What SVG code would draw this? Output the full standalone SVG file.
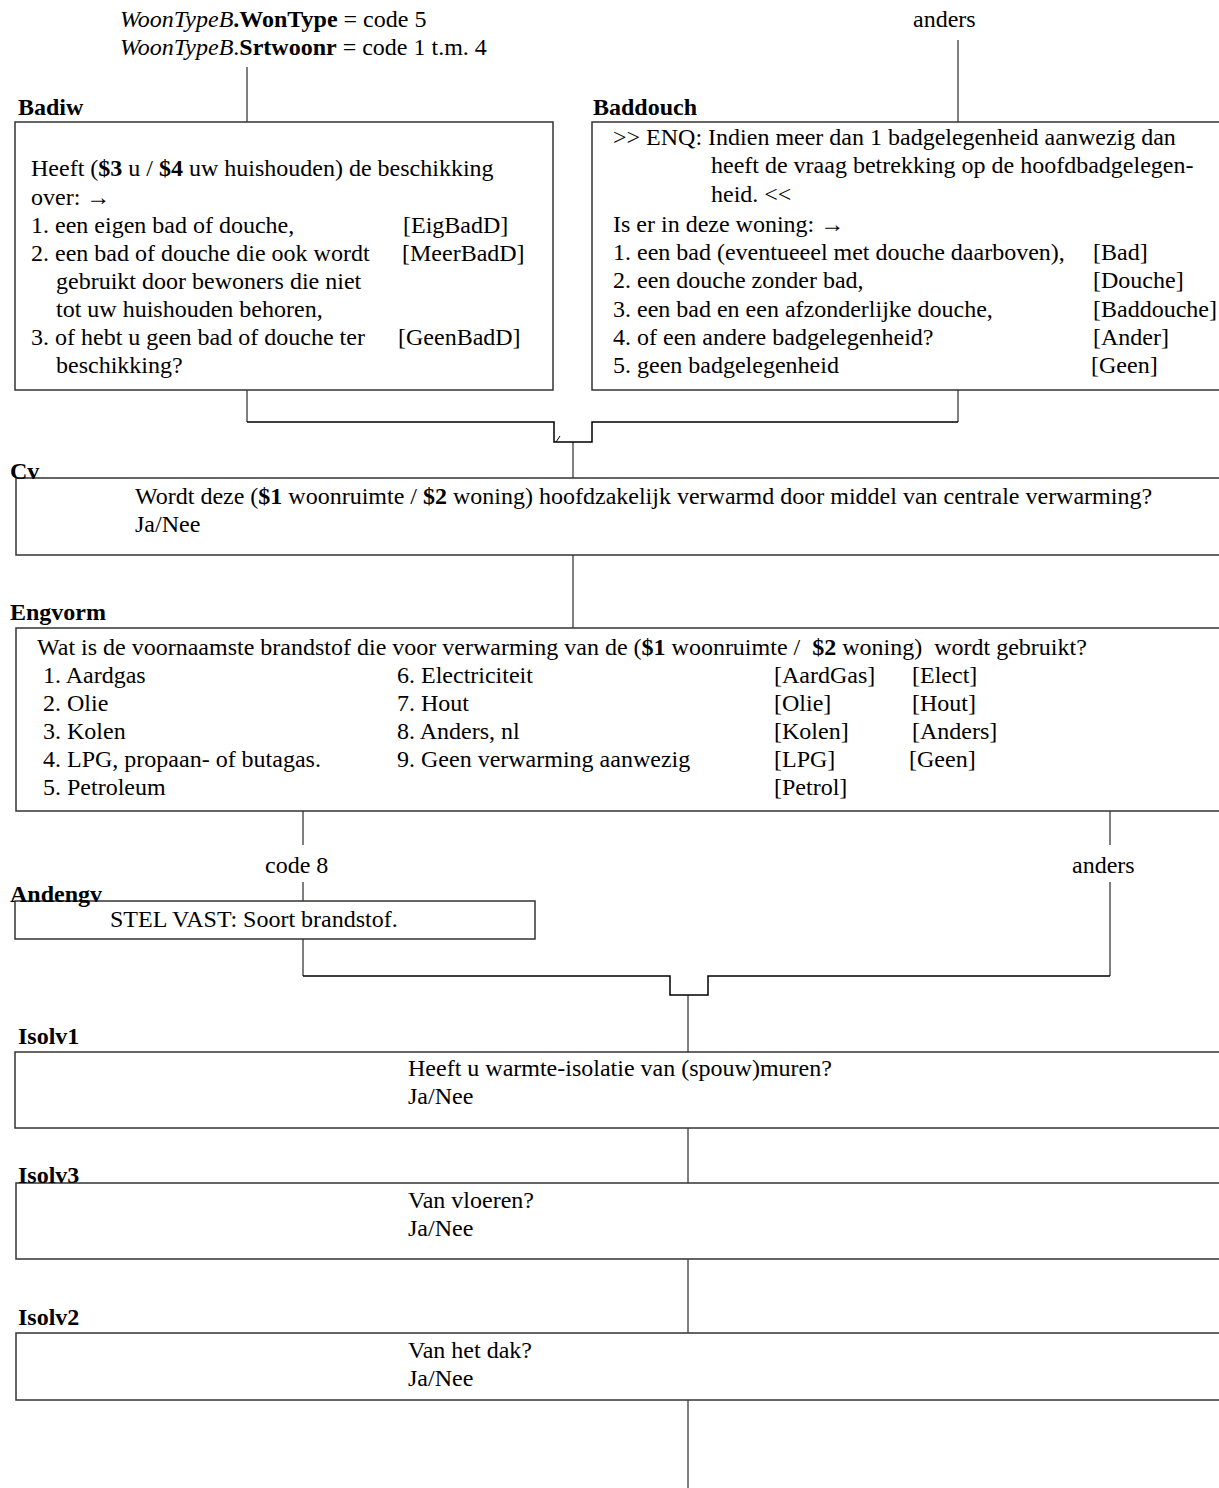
<svg xmlns="http://www.w3.org/2000/svg" width="1219" height="1488" viewBox="0 0 1219 1488">
<style>
text{font-family:"Liberation Serif","Times New Roman",serif;font-size:24px;fill:#000;white-space:pre}
.lbl{font-weight:bold}
.b{font-weight:bold}
.i{font-style:italic}
.box{fill:none;stroke:#333;stroke-width:1.5}
.con{fill:none;stroke:#000;stroke-width:1}
.br{fill:none;stroke:#000;stroke-width:1.5}
</style>
<rect width="1219" height="1488" fill="#fff"/>
<g id="connectors">
<line class="con" x1="247" y1="67" x2="247" y2="122"/>
<line class="con" x1="958" y1="40" x2="958" y2="122"/>
<line class="con" x1="247" y1="390" x2="247" y2="422"/>
<line class="con" x1="958" y1="390" x2="958" y2="422"/>
<polyline class="br" points="247,422 554,422 554,442 592,442 592,422 958,422"/>
<line class="con" x1="556" y1="442" x2="560" y2="436"/>
<line class="con" x1="573" y1="442" x2="573" y2="478"/>
<line class="con" x1="573" y1="555" x2="573" y2="628"/>
<line class="con" x1="303" y1="811" x2="303" y2="845"/>
<line class="con" x1="1110" y1="811" x2="1110" y2="845"/>
<line class="con" x1="303" y1="882" x2="303" y2="901"/>
<line class="con" x1="303" y1="939" x2="303" y2="976"/>
<line class="con" x1="1110" y1="882" x2="1110" y2="976"/>
<polyline class="br" points="303,976 670,976 670,995 708,995 708,976 1110,976"/>
<line class="con" x1="688" y1="995" x2="688" y2="1052"/>
<line class="con" x1="688" y1="1128" x2="688" y2="1183"/>
<line class="con" x1="688" y1="1259" x2="688" y2="1333"/>
<line class="con" x1="688" y1="1400" x2="688" y2="1488"/>
<text x="120" y="27"><tspan class="i">WoonTypeB</tspan><tspan class="b">.WonType</tspan> = code 5</text>
<text x="120" y="55"><tspan class="i">WoonTypeB</tspan>.<tspan class="b">Srtwoonr</tspan> = code 1 t.m. 4</text>
<text x="913" y="27">anders</text>
<text x="265" y="873">code 8</text>
<text x="1072" y="873">anders</text>
</g>
<g id="Badiw">
<text class="lbl" x="18" y="115">Badiw</text>
<rect class="box" x="15" y="122" width="538" height="268"/>
<text x="31" y="176">Heeft (<tspan class="b">$3</tspan> u / <tspan class="b">$4</tspan> uw huishouden) de beschikking</text>
<text x="31" y="205">over: →</text>
<text x="31" y="233">1. een eigen bad of douche,</text>
<text x="403" y="233">[EigBadD]</text>
<text x="31" y="261">2. een bad of douche die ook wordt</text>
<text x="402" y="261">[MeerBadD]</text>
<text x="56" y="289">gebruikt door bewoners die niet</text>
<text x="56" y="317">tot uw huishouden behoren,</text>
<text x="31" y="345">3. of hebt u geen bad of douche ter</text>
<text x="398" y="345">[GeenBadD]</text>
<text x="56" y="373">beschikking?</text>
</g>
<g id="Baddouch">
<text class="lbl" x="593" y="115">Baddouch</text>
<rect class="box" x="592" y="122" width="640" height="268"/>
<text x="613" y="145">&gt;&gt; ENQ: Indien meer dan 1 badgelegenheid aanwezig dan</text>
<text x="711" y="173">heeft de vraag betrekking op de hoofdbadgelegen-</text>
<text x="711" y="202">heid. &lt;&lt;</text>
<text x="613" y="232">Is er in deze woning: →</text>
<text x="613" y="260">1. een bad (eventueeel met douche daarboven),</text>
<text x="1093" y="260">[Bad]</text>
<text x="613" y="288">2. een douche zonder bad,</text>
<text x="1093" y="288">[Douche]</text>
<text x="613" y="317">3. een bad en een afzonderlijke douche,</text>
<text x="1093" y="317">[Baddouche]</text>
<text x="613" y="345">4. of een andere badgelegenheid?</text>
<text x="1093" y="345">[Ander]</text>
<text x="613" y="373">5. geen badgelegenheid</text>
<text x="1091" y="373">[Geen]</text>
</g>
<g id="Cv">
<rect class="box" x="16" y="478" width="1215" height="77"/>
<text class="lbl" x="10" y="479">Cv</text>
<text x="135" y="504">Wordt deze (<tspan class="b">$1</tspan> woonruimte / <tspan class="b">$2</tspan> woning) hoofdzakelijk verwarmd door middel van centrale verwarming?</text>
<text x="135" y="532">Ja/Nee</text>
</g>
<g id="Engvorm">
<text class="lbl" x="10" y="620">Engvorm</text>
<rect class="box" x="16" y="628" width="1215" height="183"/>
<text x="37" y="655">Wat is de voornaamste brandstof die voor verwarming van de (<tspan class="b">$1</tspan> woonruimte /  <tspan class="b">$2</tspan> woning)  wordt gebruikt?</text>
<text x="43" y="683">1. Aardgas</text>
<text x="43" y="711">2. Olie</text>
<text x="43" y="739">3. Kolen</text>
<text x="43" y="767">4. LPG, propaan- of butagas.</text>
<text x="43" y="795">5. Petroleum</text>
<text x="397" y="683">6. Electriciteit</text>
<text x="397" y="711">7. Hout</text>
<text x="397" y="739">8. Anders, nl</text>
<text x="397" y="767">9. Geen verwarming aanwezig</text>
<text x="774" y="683">[AardGas]</text>
<text x="774" y="711">[Olie]</text>
<text x="774" y="739">[Kolen]</text>
<text x="774" y="767">[LPG]</text>
<text x="774" y="795">[Petrol]</text>
<text x="912" y="683">[Elect]</text>
<text x="912" y="711">[Hout]</text>
<text x="912" y="739">[Anders]</text>
<text x="909" y="767">[Geen]</text>
</g>
<g id="Andengv">
<rect class="box" x="15" y="901" width="520" height="38"/>
<text class="lbl" x="10" y="902">Andengv</text>
<text x="110" y="927">STEL VAST: Soort brandstof.</text>
</g>
<g id="Isolv1">
<text class="lbl" x="18" y="1044">Isolv1</text>
<rect class="box" x="15" y="1052" width="1216" height="76"/>
<text x="408" y="1076">Heeft u warmte-isolatie van (spouw)muren?</text>
<text x="408" y="1104">Ja/Nee</text>
</g>
<g id="Isolv3">
<rect class="box" x="16" y="1183" width="1215" height="76"/>
<text class="lbl" x="18" y="1183">Isolv3</text>
<text x="408" y="1208">Van vloeren?</text>
<text x="408" y="1236">Ja/Nee</text>
</g>
<g id="Isolv2">
<text class="lbl" x="18" y="1325">Isolv2</text>
<rect class="box" x="16" y="1333" width="1215" height="67"/>
<text x="408" y="1358">Van het dak?</text>
<text x="408" y="1386">Ja/Nee</text>
</g>
</svg>
